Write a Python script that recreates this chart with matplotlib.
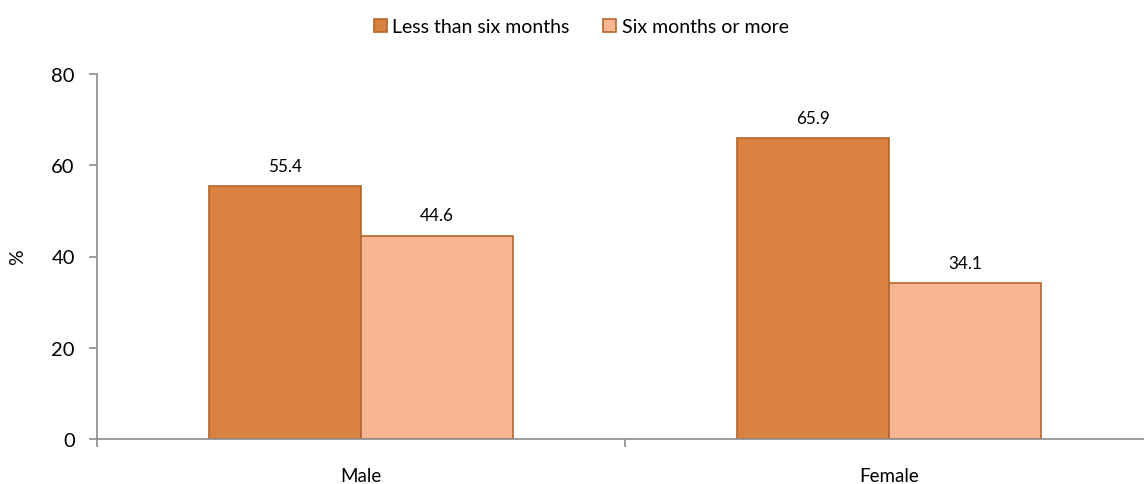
import matplotlib
matplotlib.use("Agg")
import matplotlib.pyplot as plt
import numpy as np

plt.rcParams['font.family'] = ['Lato', 'DejaVu Sans']

# data
categories = ["Male", "Female"]
less_six = [55.4, 65.9]
six_more = [44.6, 34.1]
series_names = ["Less than six months", "Six months or more"]

dark_col = "#DA823F"
light_col = "#F8B592"
edge_col = "#B4662C"
axis_col = "#8C8C8C"

fig = plt.figure(figsize=(11.44, 4.85), dpi=100)
ax = fig.add_axes([97/1144, 45/485, (1153-97)/1144, (440-75)/485])

x = np.arange(len(categories))
w = 0.288
b1 = ax.bar(x - w/2, less_six, w, color=dark_col, edgecolor=edge_col, linewidth=1.2, label=series_names[0])
b2 = ax.bar(x + w/2, six_more, w, color=light_col, edgecolor=edge_col, linewidth=1.2, label=series_names[1])

ax.bar_label(b1, labels=["%.1f" % v for v in less_six], padding=9, fontsize=12.3)
ax.bar_label(b2, labels=["%.1f" % v for v in six_more], padding=9, fontsize=12.3)

ax.set_xlim(-0.5, 1.5)
ax.set_ylim(0, 80)
ax.set_yticks([0, 20, 40, 60, 80])
ax.set_xticks(x)
ax.set_xticklabels(categories, fontsize=13.5)
ax.set_xticks([-0.5, 0.5, 1.5], minor=True)
ax.tick_params(axis='x', which='major', length=0, pad=20)
ax.tick_params(axis='x', which='minor', length=6, color=axis_col, width=1.2)
ax.tick_params(axis='y', length=6, color=axis_col, width=1.2, labelsize=14.5, pad=10)

for s in ['top', 'right']:
    ax.spines[s].set_visible(False)
for s in ['left', 'bottom']:
    ax.spines[s].set_color(axis_col)
    ax.spines[s].set_linewidth(1.2)

ax.set_ylabel("%", fontsize=14)
ax.yaxis.set_label_coords(-0.067, 0.5)

fig.legend(loc='upper center', bbox_to_anchor=(0.508, 1.0), ncol=2, frameon=False,
           fontsize=14, handlelength=0.67, handleheight=0.67, handletextpad=0.3,
           columnspacing=1.7, borderaxespad=0.6)

fig.savefig("out.png", dpi=100)
